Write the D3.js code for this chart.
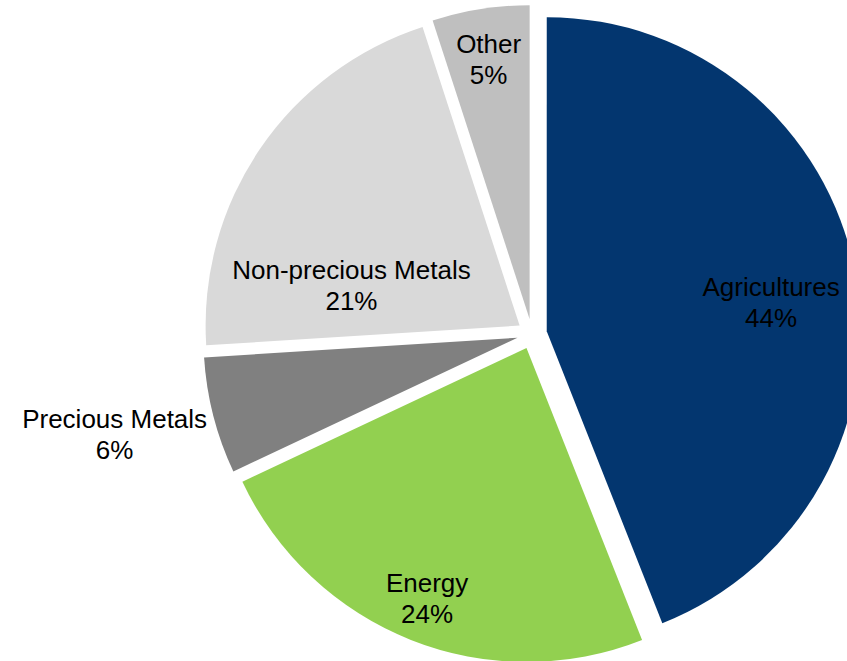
<!DOCTYPE html>
<html>
<head>
<meta charset="utf-8">
<script src="https://cdn.jsdelivr.net/npm/d3@7"></script>
<style>
  html, body { margin: 0; padding: 0; background: #fff; }
  svg { display: block; }
  .slice-label { font-family: "Liberation Sans", Arial, sans-serif; font-size: 26px; fill: #000; }
</style>
</head>
<body>
<div id="chart"></div>
<script>
// data
var categories = ['Agricultures', 'Energy', 'Precious Metals', 'Non-precious Metals', 'Other'];
var shares = [44, 24, 6, 21, 5];

// styling
var colors = ['#03366f', '#92d050', '#808080', '#d9d9d9', '#bfbfbf'];
var labelRadius = [0.72, 0.86, 1.32, 0.55, 0.835];  // fraction of radius, from slice tip
var labelTurn = [3.7, 0, 0.8, -21, 0];               // degrees, nudge off the bisector

var width = 847;
var height = 661;
var cx = 532;
var cy = 334;
var radius = 314;
var explode = 15;

var rows = categories.map(function (c, i) { return { name: c, value: shares[i], i: i }; });

var svg = d3.select('#chart').append('svg')
  .attr('width', width)
  .attr('height', height);

var pie = d3.pie()
  .sort(null)
  .value(function (d) { return d.value; });

var arc = d3.arc()
  .innerRadius(0)
  .outerRadius(radius);

var arcs = pie(rows);
var total = d3.sum(shares);

function offset(d) {
  var mid = (d.startAngle + d.endAngle) / 2;
  return [explode * Math.sin(mid), -explode * Math.cos(mid)];
}

var g = svg.append('g')
  .attr('transform', 'translate(' + cx + ',' + cy + ')');

var slices = g.selectAll('.slice')
  .data(arcs)
  .enter().append('g')
  .attr('class', 'slice')
  .attr('transform', function (d) {
    var o = offset(d);
    return 'translate(' + o[0] + ',' + o[1] + ')';
  });

slices.append('path')
  .attr('d', arc)
  .attr('fill', function (d) { return colors[d.data.i]; });

// labels: name + percent
slices.each(function (d) {
  var i = d.data.i;
  var a = (d.startAngle + d.endAngle) / 2 + labelTurn[i] * Math.PI / 180;
  var r = radius * labelRadius[i];
  var x = r * Math.sin(a);
  var y = -r * Math.cos(a);
  var t = d3.select(this).append('text')
    .attr('class', 'slice-label')
    .attr('text-anchor', 'middle');
  t.append('tspan')
    .attr('x', x)
    .attr('y', y - 7)
    .text(d.data.name);
  t.append('tspan')
    .attr('x', x)
    .attr('y', y + 24)
    .text(Math.round(d.data.value / total * 100) + '%');
});
</script>
</body>
</html>
